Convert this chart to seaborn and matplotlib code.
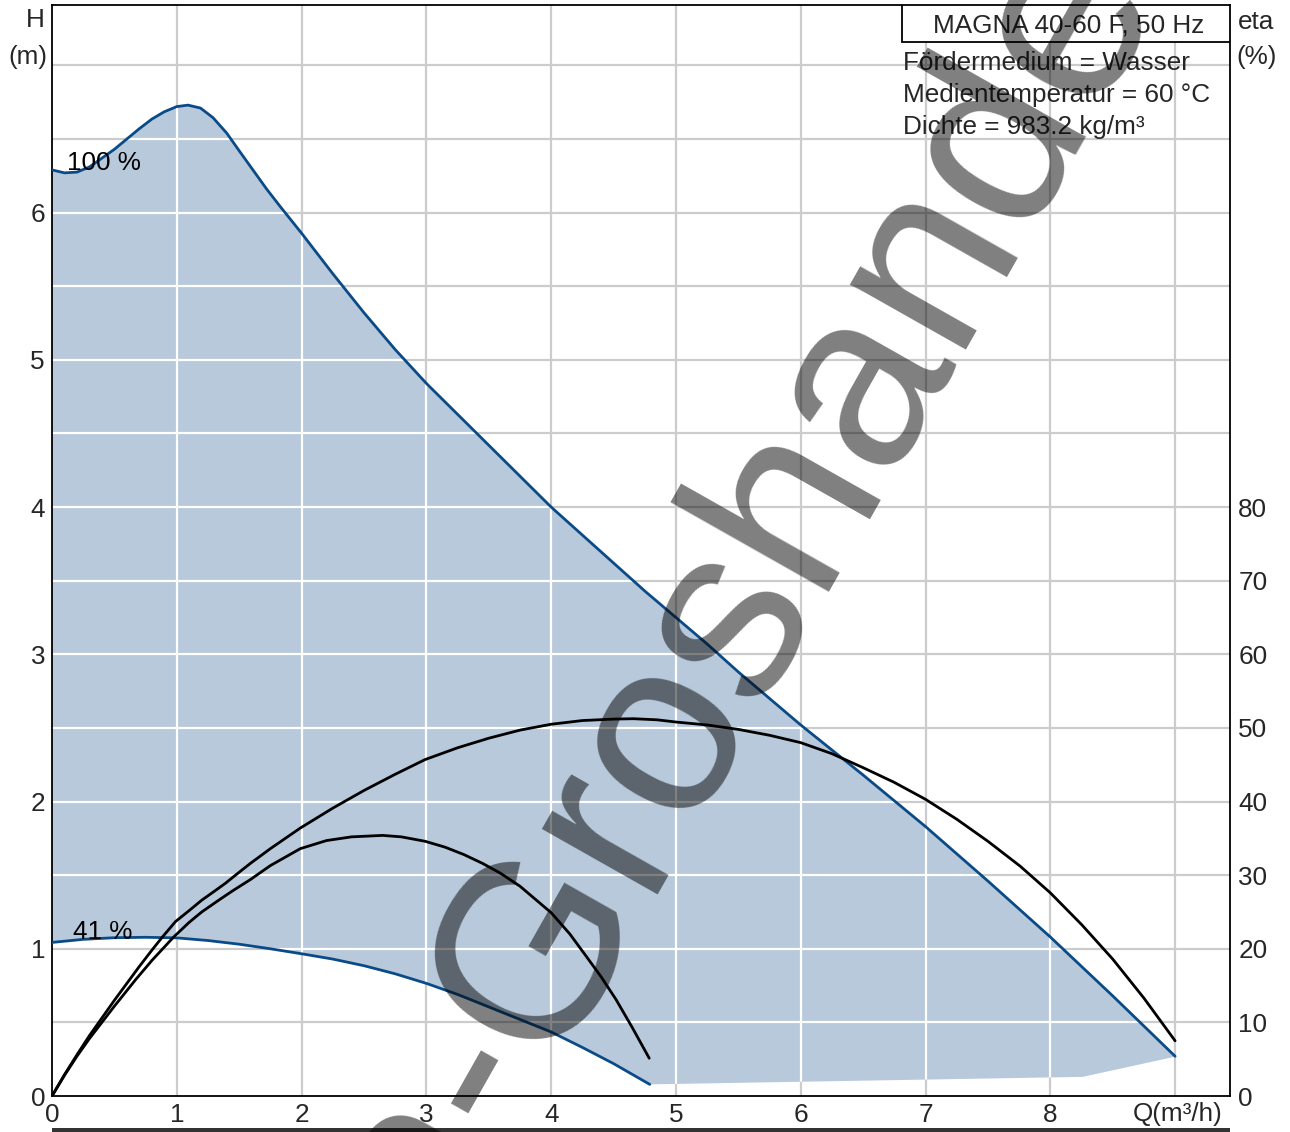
import matplotlib
matplotlib.use("Agg")
import matplotlib.pyplot as plt
from matplotlib.patches import Rectangle
import seaborn as sns
import numpy as np

# Pump head curve at 100 % speed (Q in m³/h, H in m)
q_max = [0.0, 0.1, 0.2, 0.3, 0.4, 0.5, 0.6, 0.7, 0.8, 0.9, 1.0, 1.09, 1.19, 1.29, 1.4,
         1.5, 1.61, 1.72, 1.83, 2.0, 2.25, 2.5, 2.75, 3.0, 3.25, 3.5, 3.75, 4.0, 4.25,
         4.5, 4.75, 5.0, 5.25, 5.5, 5.75, 6.0, 6.25, 6.5, 6.75, 7.0, 7.25, 7.5, 7.75,
         8.0, 8.25, 8.5, 8.75, 9.0]
h_max = [6.29, 6.27, 6.275, 6.31, 6.37, 6.43, 6.50, 6.57, 6.635, 6.685, 6.72, 6.73, 6.71,
         6.645, 6.54, 6.42, 6.29, 6.16, 6.04, 5.86, 5.585, 5.32, 5.07, 4.84, 4.63, 4.42,
         4.21, 4.00, 3.81, 3.62, 3.43, 3.25, 3.07, 2.88, 2.70, 2.52, 2.35, 2.18, 2.005,
         1.83, 1.645, 1.46, 1.27, 1.08, 0.88, 0.68, 0.475, 0.27]

# Pump head curve at 41 % speed
q_min = [0.0, 0.25, 0.5, 0.75, 1.0, 1.25, 1.5, 1.75, 2.0, 2.25, 2.5, 2.75, 3.0, 3.25,
         3.5, 3.75, 4.0, 4.25, 4.5, 4.79]
h_min = [1.043, 1.064, 1.075, 1.078, 1.074, 1.056, 1.031, 1.0, 0.966, 0.93, 0.885, 0.83,
         0.765, 0.69, 0.605, 0.52, 0.435, 0.33, 0.22, 0.079]

# Lower limit of the operating range beyond the 41 % curve
q_floor = [4.79, 8.26, 9.0]
h_floor = [0.079, 0.13, 0.267]

# Efficiency at 100 % speed (eta in %)
q_eta_max = [0.0, 0.1, 0.2, 0.3, 0.4, 0.5, 0.6, 0.7, 0.8, 0.88, 0.99, 1.1, 1.2, 1.3, 1.39,
             1.5, 1.59, 1.75, 1.99, 2.25, 2.5, 2.75, 2.99, 3.25, 3.5, 3.75, 4.0, 4.25,
             4.5, 4.66, 4.85, 5.0, 5.25, 5.5, 5.75, 6.0, 6.25, 6.5, 6.75, 7.0, 7.25, 7.5,
             7.76, 8.0, 8.25, 8.5, 8.75, 9.0]
eta_max = [0.0, 2.9, 5.6, 8.2, 10.6, 13.0, 15.3, 17.6, 19.8, 21.5, 23.7, 25.2, 26.6, 27.8,
           28.9, 30.4, 31.6, 33.6, 36.4, 39.1, 41.5, 43.7, 45.7, 47.3, 48.6, 49.7, 50.5,
           51.0, 51.2, 51.25, 51.1, 50.8, 50.4, 49.8, 49.0, 48.0, 46.5, 44.6, 42.6, 40.3,
           37.6, 34.6, 31.2, 27.6, 23.3, 18.6, 13.3, 7.5]

# Efficiency at 41 % speed
q_eta_min = [0.0, 0.1, 0.2, 0.3, 0.4, 0.5, 0.67, 0.8, 0.975, 1.1, 1.2, 1.336, 1.45, 1.59,
             1.75, 1.99, 2.2, 2.4, 2.65, 2.8, 2.99, 3.15, 3.3, 3.45, 3.59, 3.75, 4.0, 4.15,
             4.28, 4.4, 4.52, 4.65, 4.786]
eta_min = [0.0, 2.8, 5.4, 7.8, 10.0, 12.2, 15.8, 18.4, 21.6, 23.6, 25.0, 26.6, 27.9, 29.4,
           31.3, 33.6, 34.7, 35.2, 35.4, 35.2, 34.6, 33.8, 32.8, 31.6, 30.3, 28.5, 24.9,
           22.0, 19.0, 16.2, 13.1, 9.3, 5.13]

h_ticks = [0, 1, 2, 3, 4, 5, 6]
eta_ticks = [0, 10, 20, 30, 40, 50, 60, 70, 80]
q_ticks = [0, 1, 2, 3, 4, 5, 6, 7, 8]
q_grid = [1, 2, 3, 4, 5, 6, 7, 8, 9]

info_lines = ["Fördermedium = Wasser", "Medientemperatur = 60 °C", "Dichte = 983.2 kg/m³"]

BLUE = "#0a4b87"
FILL = "#b7c9db"
GRID = "#cccccc"
FS = 18.8

sns.set_theme(style="white")
plt.rcParams["font.family"] = ["Liberation Sans", "DejaVu Sans"]

W, H = 1290, 1132
fig = plt.figure(figsize=(W / 100, H / 100), dpi=100)
left, right, bottom, top = 52, 1230, 1096, 5
ax = fig.add_axes([left / W, (H - bottom) / H, (right - left) / W, (bottom - top) / H])

x_lim = (0, 9.44)
h_lim = (0, 7.41)
ax.set_xlim(*x_lim)
ax.set_ylim(*h_lim)

# grid: integer Q lines, 0.5 m head lines
h_pos = list(np.arange(0.5, 7.5, 0.5))
for v in q_grid:
    ax.axvline(v, color=GRID, lw=1.6, zorder=0)
for hp in h_pos:
    ax.axhline(hp, color=GRID, lw=1.6, zorder=0)

# operating range
poly_x = q_max + q_floor[::-1] + q_min[::-1]
poly_y = h_max + h_floor[::-1] + h_min[::-1]
patch = ax.fill(poly_x, poly_y, color=FILL, lw=0, zorder=1)[0]

# white grid lines inside the operating range
for v in q_grid:
    ln = ax.axvline(v, color="white", lw=1.6, zorder=1.5)
    ln.set_clip_path(patch)
for hp in h_pos:
    ln = ax.axhline(hp, color="white", lw=1.6, zorder=1.5)
    ln.set_clip_path(patch)

line_kw = dict(sort=False, estimator=None, lw=2.0)
sns.lineplot(x=q_max, y=h_max, ax=ax, color=BLUE, zorder=3, **line_kw)
sns.lineplot(x=q_min, y=h_min, ax=ax, color=BLUE, zorder=3, **line_kw)
for ln in ax.get_lines()[-2:]:
    ln.set_solid_joinstyle("round")

ax.text(0.12, 6.34, "100 %", fontsize=FS, color="black", va="center", zorder=4)
ax.text(0.17, 1.115, "41 %", fontsize=FS, color="black", va="center", zorder=4)

ax.set_xticks(q_ticks)
ax.set_xticklabels([str(t) for t in q_ticks], fontsize=FS)
ax.set_yticks(h_ticks)
ax.set_yticklabels([str(t) for t in h_ticks], fontsize=FS)
ax.tick_params(axis="both", length=0)
ax.tick_params(axis="x", pad=5)
ax.tick_params(axis="y", pad=5)
ax.set_xlabel("")
ax.set_ylabel("")
for s in ax.spines.values():
    s.set_color("black")
    s.set_linewidth(1.3)

# efficiency axis
ax2 = ax.twinx()
ax2.set_ylim(h_lim[0] * 20, h_lim[1] * 20)
sns.lineplot(x=q_eta_max, y=eta_max, ax=ax2, color="black", **line_kw)
sns.lineplot(x=q_eta_min, y=eta_min, ax=ax2, color="black", **line_kw)
for ln in ax2.get_lines():
    ln.set_solid_joinstyle("round")
ax2.set_yticks(eta_ticks)
ax2.set_yticklabels([str(t) for t in eta_ticks], fontsize=FS)
ax2.tick_params(axis="y", length=0, pad=6)
ax2.set_ylabel("")
for s in ax2.spines.values():
    s.set_visible(False)

# axis captions
fig.text(45 / W, 1 - 20 / H, "H", ha="right", va="center", fontsize=FS)
fig.text(47 / W, 1 - 57 / H, "(m)", ha="right", va="center", fontsize=FS)
fig.text(1238 / W, 1 - 22 / H, "eta", ha="left", va="center", fontsize=FS)
fig.text(1236 / W, 1 - 57 / H, "(%)", ha="left", va="center", fontsize=FS)
fig.text(1223 / W, 1 - 1114 / H, "Q(m³/h)", ha="right", va="center", fontsize=FS)

# title box and medium information
bx0 = (902 - left) / (right - left)
by0 = (bottom - 42) / (bottom - top)
ax.add_patch(Rectangle((bx0, by0), 1 - bx0, 1 - by0, transform=ax.transAxes,
                       facecolor="white", edgecolor="black", lw=1.3, zorder=5))
fig.text(1069 / W, 1 - 26 / H, "MAGNA 40-60 F, 50 Hz", ha="center", va="center",
         fontsize=FS, zorder=6)
for i, line in enumerate(info_lines):
    fig.text(903 / W, 1 - (63 + 32 * i) / H, line, ha="left", va="center", fontsize=FS, zorder=6)

# bar under the chart
fig.add_artist(Rectangle((left / W, 0), (right - left) / W, 4 / H, transform=fig.transFigure,
                         facecolor="#333333", edgecolor="none"))

# watermark
fig.text(440 / W, (H - 1262) / H, "a-Groshandel", rotation=60.5, rotation_mode="anchor",
         ha="left", va="baseline", fontsize=180, color="black", alpha=0.5, zorder=10)

fig.savefig("out.png", dpi=100)
